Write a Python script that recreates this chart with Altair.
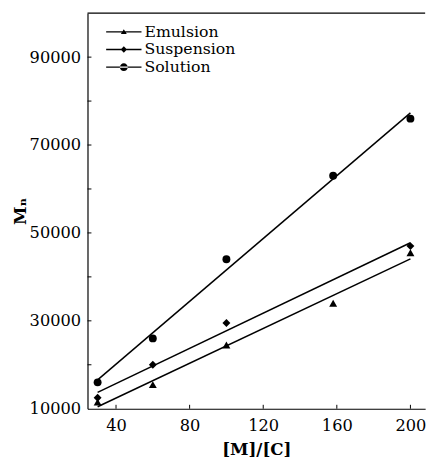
import altair as alt
import pandas as pd

# ---- data ----
series_names = ["Emulsion", "Suspension", "Solution"]

emulsion_x = [30, 60, 100, 158, 200]
emulsion_y = [11500, 15500, 24500, 34000, 45500]

suspension_x = [30, 60, 100, 200]
suspension_y = [12500, 20000, 29500, 47000]

solution_x = [30, 60, 100, 158, 200]
solution_y = [16000, 26000, 44000, 63000, 76000]

x_tick_values = [40, 80, 120, 160, 200]
y_label_values = [10000, 30000, 50000, 70000, 90000]
y_tick_values = [20000, 30000, 40000, 50000, 60000, 70000, 80000, 90000]

rows = []
for name, xs, ys in [("Emulsion", emulsion_x, emulsion_y),
                     ("Suspension", suspension_x, suspension_y),
                     ("Solution", solution_x, solution_y)]:
    for a, b in zip(xs, ys):
        rows.append({"series": name, "x": a, "y": b})
df = pd.DataFrame(rows)

W, H = 344, 403
FONT = "DejaVu Serif"

xscale = alt.Scale(domain=[24.5, 208], zero=False, nice=False)
yscale = alt.Scale(domain=[10000, 100000], zero=False, nice=False)

base = alt.Chart(df)

points = base.mark_point(filled=True, color="black", size=65, opacity=1).encode(
    x=alt.X("x:Q", scale=xscale,
            axis=alt.Axis(values=x_tick_values, title="[M]/[C]", ticks=False, tickSize=0,
                          format="d", labelPadding=9, titlePadding=8, titleFontWeight="bold",
                          titleFontSize=17, grid=False, domainColor="black", domainWidth=1.2)),
    y=alt.Y("y:Q", scale=yscale,
            axis=alt.Axis(values=y_label_values, title="Mₙ", ticks=False, tickSize=0,
                          format="d", labelPadding=7, titlePadding=0, titleFontWeight="bold",
                          titleFontSize=17, grid=False, domainColor="black", domainWidth=1.2)),
    shape=alt.Shape("series:N",
                    scale=alt.Scale(domain=series_names,
                                    range=["triangle-up", "diamond", "circle"]),
                    legend=None),
)

lines = base.transform_regression("x", "y", groupby=["series"]).mark_line(
    color="black", strokeWidth=1.5
).encode(
    x=alt.X("x:Q", scale=xscale),
    y=alt.Y("y:Q", scale=yscale),
    detail="series:N",
)

bar = "M-3.6,-0.13L3.6,-0.13L3.6,0.13L-3.6,0.13Z"
legend_paths = [
    bar + "M0,-0.55L0.6,0.45L-0.6,0.45Z",
    bar + "M-0.65,0L0,-0.65L0.65,0L0,0.65Z",
    bar + "M-0.8,0A0.8,0.8,0,1,0,0.8,0A0.8,0.8,0,1,0,-0.8,0Z",
]

legend_layer = base.transform_filter("false").mark_point(
    filled=True, color="black"
).encode(
    shape=alt.Shape("series:N",
                    scale=alt.Scale(domain=series_names, range=legend_paths),
                    legend=alt.Legend(title=None, orient="none", legendX=29, legendY=11,
                                      padding=0, rowPadding=2, symbolSize=100,
                                      labelOffset=13, labelFont=FONT, labelFontSize=16,
                                      labelColor="black", symbolFillColor="black",
                                      symbolOpacity=1)),
)

xt = alt.Chart(pd.DataFrame({"v": x_tick_values})).mark_rule(color="black", strokeWidth=1).encode(
    x=alt.X("v:Q", scale=xscale), y=alt.value(H - 4), y2=alt.value(H)
)
yt = alt.Chart(pd.DataFrame({"v": y_tick_values})).mark_rule(color="black", strokeWidth=1).encode(
    y=alt.Y("v:Q", scale=yscale), x=alt.value(0), x2=alt.value(4)
)
top = alt.Chart(pd.DataFrame({"v": [0]})).mark_rule(color="black", strokeWidth=1.2).encode(
    x=alt.value(0), x2=alt.value(W), y=alt.value(0)
)

chart = alt.layer(lines, points, legend_layer, xt, yt, top).resolve_scale(
    shape="independent"
).properties(
    width=W, height=H,
    autosize=alt.AutoSizeParams(type="none"),
    padding={"left": 81, "top": 1, "right": 8, "bottom": 50},
    background="white",
).configure_view(stroke=None).configure_axis(
    labelFont=FONT, labelFontSize=16.5, labelColor="black",
    titleFont=FONT, titleColor="black",
).configure_axisY(titleAngle=-90)

chart.save("out.html", embed_options={"renderer": "svg", "actions": False})
